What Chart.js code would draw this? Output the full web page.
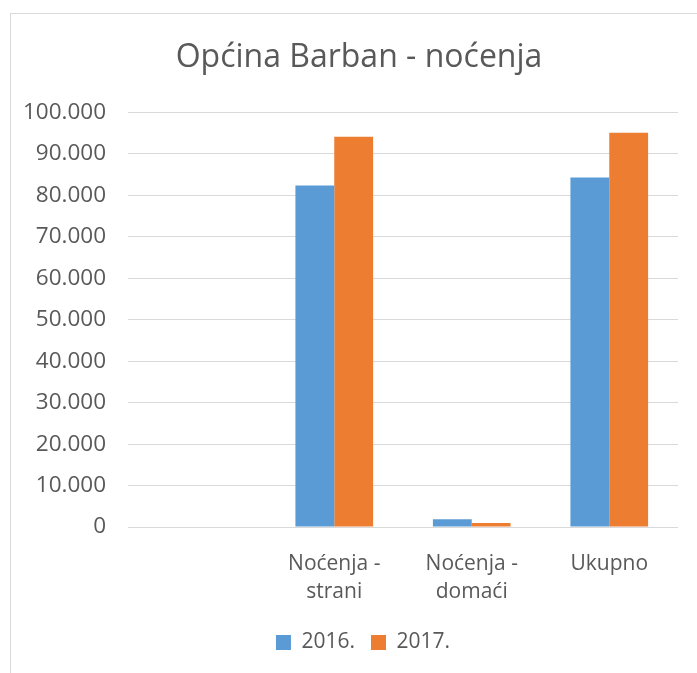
<!DOCTYPE html>
<html>
<head>
<meta charset="utf-8">
<script src="https://cdn.jsdelivr.net/npm/chart.js@4"></script>
<style>
  body { margin: 0; background: #fff; overflow: hidden; }
  #box { position: absolute; left: 10px; top: 13px; width: 696px; height: 680px; border: 1px solid #d9d9d9; box-sizing: border-box; }
  canvas { position: absolute; left: 7px; top: 0; }
</style>
</head>
<body>
<div id="box"><canvas id="chart" width="680" height="660"></canvas></div>
<script>
// kategorije (prva je prazna, kao u izvorniku)
const categories = ['', ['Noćenja -', 'strani'], ['Noćenja -', 'domaći'], 'Ukupno'];
const seriesNames = ['2016.', '2017.'];
const values2016 = [null, 82400, 1900, 84300];
const values2017 = [null, 94100, 1000, 95100];
const yTicks = [0, 10000, 20000, 30000, 40000, 50000, 60000, 70000, 80000, 90000, 100000];

const textColor = '#595959';
const fontFamily = '"Open Sans", sans-serif';

function fmt(v) {
  return String(v).replace(/\B(?=(\d{3})+(?!\d))/g, '.');
}

// naslov i legenda su u Excelu malo desno od sredine osi
const nudgeBoxes = {
  id: 'nudgeBoxes',
  afterLayout(chart) {
    const t = chart.titleBlock;
    if (t) { t.left += 11; t.right += 11; }
    const l = chart.legend;
    if (l) { l.left += 15; l.right += 15; l.top -= 5; l.bottom -= 5; }
  }
};

new Chart(document.getElementById('chart'), {
  type: 'bar',
  data: {
    labels: categories,
    datasets: [
      { label: seriesNames[0], data: values2016, backgroundColor: '#5B9BD5' },
      { label: seriesNames[1], data: values2017, backgroundColor: '#ED7D31' }
    ]
  },
  options: {
    responsive: false,
    animation: false,
    layout: { padding: { top: 25, right: 20, left: 0, bottom: 6 } },
    datasets: { bar: { categoryPercentage: 0.565, barPercentage: 1 } },
    plugins: {
      title: {
        display: true,
        text: 'Općina Barban - noćenja',
        color: textColor,
        font: { family: fontFamily, size: 32, weight: 'normal' },
        padding: { top: 0, bottom: 35 }
      },
      legend: {
        position: 'bottom',
        labels: {
          color: textColor,
          font: { family: fontFamily, size: 21 },
          boxWidth: 15,
          boxHeight: 15,
          padding: 16
        }
      },
      tooltip: { enabled: false }
    },
    scales: {
      x: {
        grid: { display: false },
        border: { display: false },
        ticks: {
          color: textColor,
          font: { family: fontFamily, size: 21, lineHeight: 1.38 },
          maxRotation: 0,
          padding: 14
        }
      },
      y: {
        min: 0,
        max: 100000,
        afterBuildTicks: axis => { axis.ticks = yTicks.map(v => ({ value: v })); },
        afterFit: axis => { axis.width = 110; },
        grid: { color: '#d9d9d9', drawTicks: false },
        border: { display: false },
        ticks: {
          color: textColor,
          font: { family: fontFamily, size: 22.5 },
          padding: 22,
          callback: v => fmt(v)
        }
      }
    }
  },
  plugins: [nudgeBoxes]
});
</script>
</body>
</html>
